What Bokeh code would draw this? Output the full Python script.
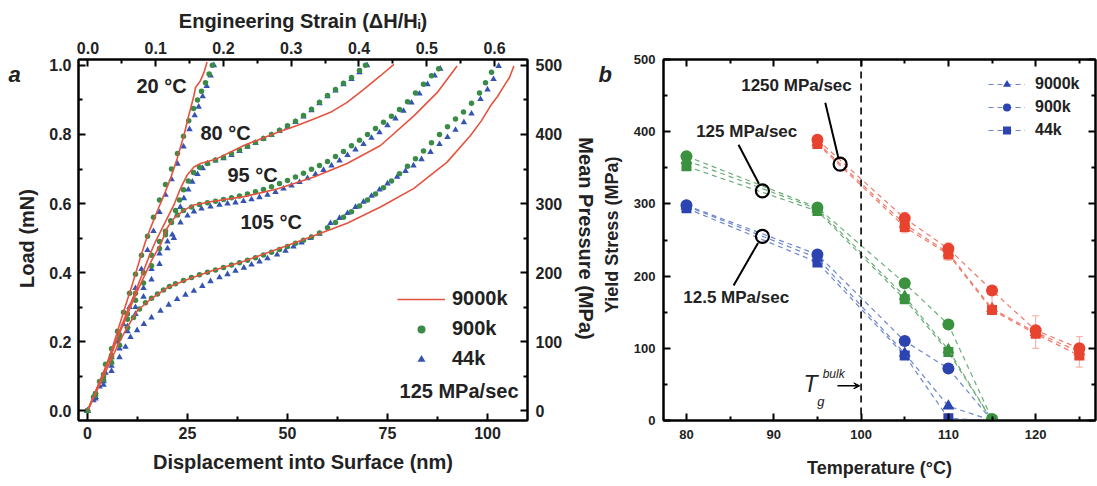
import math
from bokeh.plotting import figure
from bokeh.layouts import row
from bokeh.models import (ColumnDataSource, Range1d, LinearAxis, FixedTicker, PrintfTickFormatter,
                          CustomJSTickFormatter, Label, Legend, LegendItem, Arrow, VeeHead, Span,
                          Whisker, TeeHead)
from bokeh.embed import file_html
from bokeh.resources import INLINE

FONT = "Liberation Sans"

# ---------------- Panel a : load vs displacement (125 MPa/sec) ----------------
# 20 C
d20_9000k = [0, 2, 4, 5.75, 7.5, 9.1, 11.2, 13, 14.5, 15.75, 17.4, 19.1, 20.75, 22.4, 24.1, 25.3, 26.6, 27.0, 28.2, 29.1, 29.9]
L20_9000k = [0, 0.055, 0.11, 0.165, 0.23, 0.29, 0.366, 0.435, 0.49, 0.529, 0.577, 0.624, 0.672, 0.73, 0.797, 0.854, 0.912, 0.936, 0.955, 0.979, 1.01]
d20_900k = [0, 1.5, 3, 4.5, 6, 7.5, 9, 10.5, 12, 13.5, 15, 16.5, 18, 19.5, 21, 22.5, 24, 25.3, 26.5, 27.5, 28.5, 29.5, 30.4, 31.2]
L20_900k = [0, 0.04, 0.085, 0.135, 0.18, 0.23, 0.285, 0.34, 0.395, 0.45, 0.505, 0.56, 0.61, 0.655, 0.7, 0.745, 0.795, 0.84, 0.875, 0.9, 0.925, 0.95, 0.975, 1.0]
d20_44k = [0, 1.5, 3, 4.5, 6, 7.5, 9, 10.5, 12, 13.5, 15, 16.5, 18, 19.5, 21, 22.5, 24, 25.5, 26.8, 27.8, 28.8, 29.8, 30.8, 31.6]
L20_44k = [0, 0.03, 0.07, 0.11, 0.155, 0.2, 0.25, 0.3, 0.355, 0.41, 0.465, 0.52, 0.575, 0.625, 0.67, 0.715, 0.765, 0.815, 0.855, 0.88, 0.91, 0.94, 0.97, 1.0]
# 80 C
d80_9000k = [0, 2, 4, 6, 8, 10, 12, 14, 15.5, 17, 19.1, 21.6, 23.25, 24.9, 26.6, 28.25, 32.4, 39.1, 47.4, 52.4, 56.6, 60.75, 64.9, 69, 73.25, 76.6]
L80_9000k = [0, 0.055, 0.11, 0.17, 0.23, 0.29, 0.345, 0.405, 0.45, 0.49, 0.538, 0.596, 0.644, 0.682, 0.706, 0.716, 0.73, 0.768, 0.806, 0.826, 0.845, 0.864, 0.893, 0.93, 0.97, 1.003]
d80_900k = [0, 2, 4, 6, 8, 10, 12, 14, 16, 18, 19.5, 20.8, 22, 23, 24, 25.2, 26.5, 28, 30, 32, 34, 36, 38, 40, 42, 44, 46, 48, 50, 52, 54, 56, 58, 60, 62, 64, 66, 68, 69.5]
L80_900k = [0, 0.05, 0.105, 0.16, 0.22, 0.28, 0.34, 0.4, 0.45, 0.49, 0.52, 0.55, 0.58, 0.61, 0.64, 0.665, 0.69, 0.705, 0.716, 0.726, 0.734, 0.744, 0.755, 0.766, 0.777, 0.788, 0.8, 0.812, 0.825, 0.838, 0.855, 0.873, 0.893, 0.913, 0.93, 0.948, 0.965, 0.985, 1.0]
d80_44k = [0, 2, 4, 6, 8, 10, 12, 14, 16, 18, 20, 21.2, 22.4, 23.2, 24.1, 25.2, 26.2, 27.5, 28.8, 30, 32, 34, 36, 38, 40, 42, 44, 46, 48, 50, 52, 54, 56, 58, 60, 62, 64, 66, 68, 69.9]
L80_44k = [0, 0.04, 0.09, 0.14, 0.19, 0.245, 0.3, 0.355, 0.41, 0.455, 0.49, 0.51, 0.567, 0.59, 0.615, 0.64, 0.663, 0.685, 0.702, 0.716, 0.724, 0.731, 0.74, 0.752, 0.764, 0.775, 0.787, 0.798, 0.81, 0.822, 0.836, 0.852, 0.87, 0.89, 0.91, 0.927, 0.945, 0.96, 0.98, 1.0]
# 95 C
d95_9000k = [0, 2, 4, 6, 8, 10, 12, 14, 16, 18.25, 19.9, 21.6, 24.1, 26.6, 30.75, 39.1, 47.4, 56.6, 64.9, 73.25, 81.6, 87.4, 92.4]
L95_9000k = [0, 0.055, 0.11, 0.165, 0.225, 0.28, 0.335, 0.385, 0.435, 0.481, 0.529, 0.557, 0.581, 0.596, 0.605, 0.62, 0.642, 0.677, 0.716, 0.768, 0.854, 0.921, 0.998]
d95_900k = [0, 2, 4, 6, 8, 10, 12, 14, 16, 18, 19.5, 21, 22.5, 24, 26, 28, 30, 32, 34, 36, 38, 40, 42, 44, 46, 48, 50, 52, 54, 56, 58, 60, 62, 64, 66, 68, 70, 72, 74, 76, 78, 80, 82, 84, 86, 87.8]
L95_900k = [0, 0.05, 0.1, 0.155, 0.21, 0.265, 0.32, 0.37, 0.42, 0.47, 0.51, 0.545, 0.567, 0.58, 0.59, 0.597, 0.602, 0.607, 0.612, 0.617, 0.622, 0.628, 0.634, 0.641, 0.649, 0.658, 0.667, 0.677, 0.688, 0.699, 0.71, 0.722, 0.736, 0.751, 0.767, 0.783, 0.8, 0.817, 0.835, 0.853, 0.872, 0.895, 0.92, 0.945, 0.97, 0.99]
d95_44k = [0, 2, 4, 6, 8, 10, 12, 14, 16, 18, 20, 21.6, 23.25, 25, 26.6, 28.5, 30.75, 33, 35, 37, 39, 41, 43, 45, 47, 49, 51, 53, 55, 57, 59, 61, 63, 65, 67, 69, 71, 73, 75, 77, 79, 81, 83, 85, 86.8, 88.2]
L95_44k = [0, 0.04, 0.085, 0.13, 0.18, 0.23, 0.28, 0.33, 0.38, 0.425, 0.47, 0.5, 0.545, 0.565, 0.577, 0.585, 0.591, 0.596, 0.6, 0.603, 0.607, 0.612, 0.618, 0.625, 0.633, 0.643, 0.652, 0.662, 0.673, 0.685, 0.697, 0.71, 0.724, 0.74, 0.756, 0.772, 0.79, 0.806, 0.826, 0.846, 0.868, 0.892, 0.918, 0.945, 0.97, 0.99]
# 105 C
d105_9000k = [0, 2, 4, 6, 8, 9.9, 12.4, 15.75, 19.9, 24.9, 30.75, 39.1, 47.4, 55.75, 64.9, 73.25, 81.6, 89.9, 95.75, 98.5, 100.75, 102.5, 104.1, 105.5, 106.6]
L105_9000k = [0, 0.05, 0.1, 0.15, 0.2, 0.241, 0.289, 0.323, 0.356, 0.38, 0.404, 0.433, 0.468, 0.503, 0.543, 0.59, 0.644, 0.72, 0.797, 0.84, 0.883, 0.91, 0.94, 0.965, 0.998]
d105_900k = [0, 2, 4, 6, 8, 10, 11.5, 13, 14.5, 16, 17.5, 19, 20.5, 22, 24, 26, 28, 30, 32, 34, 36, 38, 40, 42, 44, 46, 48, 50, 52, 54, 56, 58, 60, 62, 64, 66, 68, 70, 72, 74, 76, 78, 80, 82, 84, 86, 88, 90, 92, 94, 96, 98, 99.5, 101]
L105_900k = [0, 0.045, 0.09, 0.14, 0.19, 0.24, 0.27, 0.295, 0.313, 0.326, 0.338, 0.35, 0.36, 0.368, 0.377, 0.386, 0.394, 0.401, 0.408, 0.415, 0.422, 0.429, 0.436, 0.443, 0.451, 0.459, 0.467, 0.476, 0.485, 0.494, 0.503, 0.515, 0.53, 0.545, 0.56, 0.576, 0.593, 0.61, 0.628, 0.646, 0.665, 0.686, 0.708, 0.73, 0.752, 0.776, 0.8, 0.822, 0.845, 0.865, 0.89, 0.92, 0.95, 0.98]
d105_44k = [0, 2, 4, 6, 8, 9.5, 10.75, 12.4, 14.1, 16, 18.25, 20.3, 22.4, 24.5, 26.6, 28.7, 30.75, 33, 35, 37, 39.1, 41, 43, 45, 47.4, 49.5, 51.5, 53.5, 55.75, 58, 60.75, 63, 65, 67, 69, 71, 73, 75, 77.4, 79.5, 81.5, 83.5, 85.75, 88, 90, 92, 94.1, 96, 98.25, 100, 101.5, 102.8]
L105_44k = [0, 0.035, 0.075, 0.115, 0.155, 0.185, 0.213, 0.233, 0.251, 0.27, 0.289, 0.307, 0.323, 0.336, 0.347, 0.361, 0.375, 0.386, 0.395, 0.405, 0.414, 0.423, 0.432, 0.441, 0.452, 0.463, 0.475, 0.487, 0.5, 0.512, 0.543, 0.558, 0.572, 0.59, 0.605, 0.622, 0.64, 0.658, 0.677, 0.694, 0.71, 0.728, 0.749, 0.772, 0.792, 0.813, 0.835, 0.86, 0.902, 0.93, 0.96, 0.998]

temp_labels_a = ["20 \u00b0C", "80 \u00b0C", "95 \u00b0C", "105 \u00b0C"]
temp_label_pos = [(12.25, 0.94), (28.25, 0.805), (35.0, 0.682), (38.25, 0.546)]

strain_ticks = [0.0, 0.1, 0.2, 0.3, 0.4, 0.5, 0.6]
load_ticks = [0.0, 0.2, 0.4, 0.6, 0.8, 1.0]
disp_ticks = [0, 25, 50, 75, 100]
press_ticks = [0, 100, 200, 300, 400, 500]

# ---------------- Panel b : yield stress vs temperature ----------------
temps_blue = [80, 95, 105, 110, 115]      # 12.5 MPa/sec
blue_9000k = [297, 225, 93, 20, 0]
blue_900k = [298, 230, 110, 72, 0]
blue_44k = [294, 219, 90, 3, 0]
temps_green = [80, 95, 105, 110, 115]     # 125 MPa/sec
green_9000k = [360, 293, 172, 98, 0]
green_900k = [366, 295, 190, 133, 2]
green_44k = [352, 290, 168, 95, 0]
temps_red = [95, 105, 110, 115, 120, 125]  # 1250 MPa/sec
red_9000k = [385, 272, 232, 155, 122, 95]
red_900k = [389, 280, 238, 180, 125, 100]
red_44k = [383, 268, 230, 153, 120, 90]
red_err = [6, 8, 8, 6, 20, 16]

temp_ticks = [80, 90, 100, 110, 120]
stress_ticks = [0, 100, 200, 300, 400, 500]
tg_bulk = 100

RED_L = "#e5533f"
GREEN_D = "#3b8b48"
BLUE_T = "#3553b3"
B_COL = {"blue": "#2b44b0", "green": "#3a923e", "red": "#e8432f"}
B_LINE = {"blue": "#6e86cc", "green": "#6cae78", "red": "#f07a6b"}
TXT = "#222222"
H = 486


def style_axis(ax, size="16px", title_size="20px"):
    ax.axis_line_width = 2
    ax.axis_line_color = "black"
    ax.major_tick_in = 7
    ax.major_tick_out = 0
    ax.minor_tick_in = 4
    ax.minor_tick_out = 0
    ax.major_tick_line_width = 2
    ax.minor_tick_line_width = 2
    ax.major_label_text_font = FONT
    ax.major_label_text_font_style = "bold"
    ax.major_label_text_font_size = size
    ax.major_label_text_color = TXT
    ax.axis_label_text_font = FONT
    ax.axis_label_text_font_style = "bold"
    ax.axis_label_text_font_size = title_size
    ax.axis_label_text_color = TXT


def strip(width):
    s = figure(width=width, height=H, x_range=Range1d(0, width), y_range=Range1d(H, 0),
               x_axis_type=None, y_axis_type=None, output_backend="svg", toolbar_location=None,
               min_border=0)
    s.outline_line_color = None
    s.grid.visible = False
    return s


def txt(p, x, y, text, size, style="bold", align="center", angle=0.0):
    p.add_layout(Label(x=x, y=y, text=text, text_font=FONT, text_font_size=size,
                       text_font_style=style, text_align=align, text_baseline="middle",
                       text_color=TXT, angle=angle))


# ================= left strip (panel letter + left title) =================
sL = strip(40)
txt(sL, 8, 20, "a", "22px", style="bold italic", align="left")
txt(sL, 26, 241, "Load (mN)", "20px", angle=math.pi / 2)

# ================= Panel a =================
p1 = figure(width=528, height=H, x_range=Range1d(-2.25, 110), y_range=Range1d(-0.028, 1.017),
            output_backend="svg", toolbar_location=None)
p1.min_border_left = 38
p1.min_border_right = 41
p1.min_border_top = 59
p1.min_border_bottom = 63
p1.grid.visible = False
p1.outline_line_color = "black"
p1.outline_line_width = 2

p1.xaxis.ticker = FixedTicker(ticks=disp_ticks, minor_ticks=[12.5, 37.5, 62.5, 87.5])
p1.xaxis.axis_label = "Displacement into Surface (nm)"
p1.yaxis.ticker = FixedTicker(ticks=load_ticks, minor_ticks=[0.1, 0.3, 0.5, 0.7, 0.9])
p1.yaxis.formatter = PrintfTickFormatter(format="%.1f")
style_axis(p1.xaxis[0])
style_axis(p1.yaxis[0])
p1.xaxis[0].major_label_standoff = 6
p1.xaxis[0].axis_label_standoff = 9
p1.yaxis[0].major_label_standoff = 7

p1.extra_x_ranges = {"strain": Range1d(-0.014, 0.6487)}
ax_top = LinearAxis(x_range_name="strain",
                    ticker=FixedTicker(ticks=strain_ticks, minor_ticks=[0.05, 0.15, 0.25, 0.35, 0.45, 0.55, 0.65]),
                    formatter=PrintfTickFormatter(format="%.1f"),
                    axis_label="Engineering Strain (\u0394H/H\u1d62)")
style_axis(ax_top)
ax_top.major_label_standoff = 6
ax_top.axis_label_standoff = 7
p1.add_layout(ax_top, "above")

p1.extra_y_ranges = {"press": Range1d(-0.028 * 500, 1.017 * 500)}
ax_right = LinearAxis(y_range_name="press",
                      ticker=FixedTicker(ticks=press_ticks, minor_ticks=[50, 150, 250, 350, 450]))
style_axis(ax_right)
ax_right.major_label_standoff = 8
p1.add_layout(ax_right, "right")

series_a = [
    (d20_9000k, L20_9000k, d20_900k, L20_900k, d20_44k, L20_44k),
    (d80_9000k, L80_9000k, d80_900k, L80_900k, d80_44k, L80_44k),
    (d95_9000k, L95_9000k, d95_900k, L95_900k, d95_44k, L95_44k),
    (d105_9000k, L105_9000k, d105_900k, L105_900k, d105_44k, L105_44k),
]
leg_r = None
for i, (dr, lr, dg, lg, db, lb) in enumerate(series_a):
    rb = p1.scatter(db, lb, marker="triangle", size=6.5, color=BLUE_T, line_width=0)
    rg = p1.scatter(dg, lg, marker="circle", size=5.5, color=GREEN_D, line_width=0)
    rr = p1.line(dr, lr, line_color=RED_L, line_width=1.6)
    if i == 0:
        leg_r = (rr, rg, rb)

for t, (x, y) in zip(temp_labels_a, temp_label_pos):
    p1.add_layout(Label(x=x, y=y, text=t, text_font=FONT, text_font_size="20px",
                        text_font_style="bold", text_align="left", text_baseline="middle",
                        text_color=TXT))

leg_a = Legend(items=[LegendItem(label="9000k", renderers=[leg_r[0]]),
                      LegendItem(label="900k", renderers=[leg_r[1]]),
                      LegendItem(label="44k", renderers=[leg_r[2]])],
               location=(319, 50), glyph_width=48, glyph_height=20, label_height=20,
               label_standoff=7, spacing=7, padding=0, margin=0,
               border_line_color=None, background_fill_alpha=0,
               label_text_font=FONT, label_text_font_size="20px", label_text_font_style="bold",
               label_text_color=TXT)
p1.add_layout(leg_a, "center")
p1.add_layout(Label(x=107.75, y=0.058, text="125 MPa/sec", text_font=FONT, text_font_size="20px",
                    text_font_style="bold", text_align="right", text_baseline="middle",
                    text_color=TXT))

# ================= middle strip (right title of a, letter b, left title of b) =================
sM = strip(60)
txt(sM, 17, 241, "Mean Pressure (MPa)", "20px", angle=-math.pi / 2)
txt(sM, 30, 20, "b", "22px", style="bold italic", align="left")
txt(sM, 43, 236, "Yield Stress (MPa)", "18px", angle=math.pi / 2)

# ================= Panel b =================
p2 = figure(width=469, height=H, x_range=Range1d(77.37, 126.85), y_range=Range1d(0, 500),
            output_backend="svg", toolbar_location=None)
p2.min_border_left = 35
p2.min_border_right = 2
p2.min_border_top = 52
p2.min_border_bottom = 66
p2.grid.visible = False
p2.outline_line_color = "black"
p2.outline_line_width = 2

p2.xaxis.ticker = FixedTicker(ticks=temp_ticks, minor_ticks=[85, 95, 105, 115, 125])
p2.xaxis.axis_label = "Temperature (\u00b0C)"
p2.yaxis.ticker = FixedTicker(ticks=stress_ticks, minor_ticks=[50, 150, 250, 350, 450])
style_axis(p2.xaxis[0], size="13px", title_size="18px")
style_axis(p2.yaxis[0], size="13px", title_size="18px")
p2.xaxis[0].major_label_standoff = 9
p2.xaxis[0].axis_label_standoff = 16
p2.yaxis[0].major_label_standoff = 8

empty_fmt = CustomJSTickFormatter(code="return ''")
for side in ("above", "right"):
    ax = LinearAxis(ticker=FixedTicker(ticks=temp_ticks if side == "above" else stress_ticks,
                                       minor_ticks=[85, 95, 105, 115, 125] if side == "above" else [50, 150, 250, 350, 450]),
                    formatter=empty_fmt)
    style_axis(ax, size="13px")
    ax.major_label_standoff = 0
    p2.add_layout(ax, side)

p2.add_layout(Span(location=tg_bulk, dimension="height", line_color="black", line_width=1.6,
                   line_dash="7 5"))

wsrc = ColumnDataSource(dict(x=temps_red,
                             upper=[v + e for v, e in zip(red_900k, red_err)],
                             lower=[v - e for v, e in zip(red_44k, red_err)]))
p2.add_layout(Whisker(source=wsrc, base="x", upper="upper", lower="lower", line_color="#f4a79d",
                      line_width=1, upper_head=TeeHead(size=7, line_color="#f4a79d"),
                      lower_head=TeeHead(size=7, line_color="#f4a79d")))

groups = [
    ("blue", temps_blue, blue_9000k, blue_900k, blue_44k),
    ("red", temps_red, red_9000k, red_900k, red_44k),
    ("green", temps_green, green_9000k, green_900k, green_44k),
]
legend_b = {}
for name, tx, s9000, s900, s44 in groups:
    rends = {}
    for lab, ys, mk, sz in (("44k", s44, "square", 10), ("9000k", s9000, "triangle", 12),
                            ("900k", s900, "circle", 12)):
        ln = p2.line(tx, ys, line_color=B_LINE[name], line_width=1.2, line_dash="5 4")
        sc = p2.scatter(tx, ys, marker=mk, size=sz, color=B_COL[name], line_width=0)
        rends[lab] = [ln, sc]
    if name == "blue":
        legend_b = rends

leg_b = Legend(items=[LegendItem(label="9000k", renderers=legend_b["9000k"]),
                      LegendItem(label="900k", renderers=legend_b["900k"]),
                      LegendItem(label="44k", renderers=legend_b["44k"])],
               location=(325, 280), glyph_width=37, glyph_height=20, label_height=20,
               label_standoff=10, spacing=3, padding=0, margin=0,
               border_line_color=None, background_fill_alpha=0,
               label_text_font=FONT, label_text_font_size="16px", label_text_font_style="bold",
               label_text_color=TXT)
p2.add_layout(leg_b, "center")

# pointer annotations (open circles + leader lines)
ann_T = [88.7, 88.7, 97.6]
ann_S = [318, 255, 355]
lead_x0 = [85.96, 85.4, 95.9]
lead_y0 = [382, 187, 440]
lead_x1 = [88.3, 88.2, 97.4]
lead_y1 = [328, 246, 364]
p2.segment(lead_x0, lead_y0, lead_x1, lead_y1, line_color="black", line_width=2)
p2.scatter(ann_T, ann_S, marker="circle", size=13, fill_color=None, line_color="black", line_width=2.2)
for t, x, y in (("125 MPa/sec", 86.9, 400), ("12.5 MPa/sec", 85.7, 170), ("1250 MPa/sec", 92.6, 464)):
    p2.add_layout(Label(x=x, y=y, text=t, text_font=FONT, text_font_size="17px",
                        text_font_style="bold", text_align="center", text_baseline="middle",
                        text_color=TXT))

p2.add_layout(Label(x=94.2, y=50, text="T", text_font=FONT, text_font_size="23px",
                    text_font_style="italic", text_align="center", text_baseline="middle",
                    text_color=TXT))
p2.add_layout(Label(x=95.4, y=27, text="g", text_font=FONT, text_font_size="13px",
                    text_font_style="italic", text_align="center", text_baseline="middle",
                    text_color=TXT))
p2.add_layout(Label(x=95.6, y=64, text="bulk", text_font=FONT, text_font_size="12px",
                    text_font_style="italic", text_align="left", text_baseline="middle",
                    text_color=TXT))
p2.add_layout(Arrow(end=VeeHead(size=6, fill_color="black", line_color="black"),
                    x_start=97.3, y_start=48, x_end=99.85, y_end=48, line_width=1.5))

layout = row(sL, p1, sM, p2)
open("out.html", "w").write(file_html(layout, INLINE))
